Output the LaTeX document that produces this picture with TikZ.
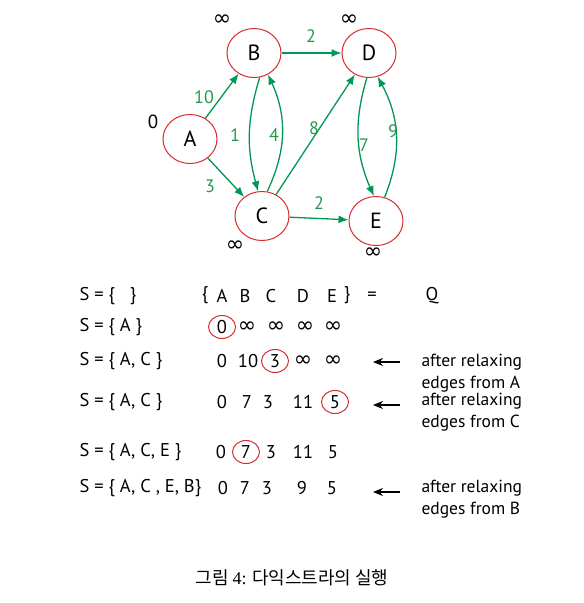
\documentclass[tikz,border=0pt]{standalone}
\usepackage{fontspec}
\setmainfont{PT Sans}
\newfontfamily\cjk{Noto Sans CJK KR}
\newfontfamily\symfont{DejaVu Sans}
\newfontfamily\capserif{Liberation Serif}
\usetikzlibrary{arrows.meta,shapes.geometric}
\definecolor{edgegreen}{RGB}{0,150,85}
\definecolor{labgreen}{RGB}{30,155,75}
\definecolor{ringred}{RGB}{215,45,45}
\newcommand{\inft}{{\symfont\fontsize{22}{22}\selectfont ∞}}

\begin{document}
\begin{tikzpicture}[x=1pt,y=1pt,
  vertex/.style={ellipse,draw=ringred,line width=1pt,minimum width=54pt,minimum height=49pt,font=\fontsize{22}{26}\selectfont},
  wedge/.style={edgegreen,line width=1.3pt,-{Latex[length=10pt,width=8pt]}},
  wlab/.style={text=labgreen,font=\fontsize{18}{21}\selectfont},
  dist/.style={font=\fontsize{19}{22}\selectfont},
  row/.style={anchor=west,font=\fontsize{18.5}{22}\selectfont},
  cell/.style={font=\fontsize{18.5}{22}\selectfont},
  hl/.style={cell,ellipse,draw=ringred,line width=1pt,minimum width=27pt,minimum height=23pt,inner sep=0pt},
  note/.style={anchor=west,align=left,font=\fontsize{17.5}{22}\selectfont},
  larrow/.style={line width=1.3pt,-{Stealth[length=10pt,width=8pt]}}]
\useasboundingbox (0,0) rectangle (584,-603);

% graph
\node[vertex] (A) at (190,-139) {A};
\node[vertex] (B) at (254,-53) {B};
\node[vertex] (C) at (262,-216) {C};
\node[vertex] (D) at (369,-53) {D};
\node[vertex] (E) at (376,-221) {E};

\node[dist] (dA) at (153,-122) {0};
\node[dist] (dB) at (222,-20) {\inft};
\node[dist] (dD) at (349,-20) {\inft};
\node[dist] (dC) at (235,-246) {\inft};
\node[dist] (dE) at (373,-253) {\inft};

\draw[wedge] (A) -- (B);
\draw[wedge] (A) -- (C);
\draw[wedge] (B) -- (D);
\draw[wedge] (B.-77) to[bend right=16] (C.99);
\draw[wedge] (C.78) to[bend right=25] (B.-57);
\draw[wedge] (C) -- (D);
\draw[wedge] (C) -- (E);
\draw[wedge] (D.-95) to[bend right=20] (E.95);
\draw[wedge] (E.70) to[bend right=25] (D.-70);

\node[wlab] (wAB) at (204,-97) {10};
\node[wlab] (wAC) at (210,-186) {3};
\node[wlab] (wBD) at (311,-36) {2};
\node[wlab] (wBC) at (235,-135) {1};
\node[wlab] (wCB) at (274,-135) {4};
\node[wlab] (wCD) at (314,-128) {8};
\node[wlab] (wCE) at (319,-203) {2};
\node[wlab] (wDE) at (364,-145) {7};
\node[wlab] (wED) at (393,-131) {9};

% table
\node[row] (s1) at (76,-296) {S = \{ \ \ \}};
\node[cell] (lb) at (205,-295) {\{};
\node[cell] (hA) at (222,-296) {A};
\node[cell] (hB) at (245,-296) {B};
\node[cell] (hC) at (271,-296) {C};
\node[cell] (hD) at (303,-296) {D};
\node[cell] (hE) at (332,-296) {E};
\node[cell] (rb) at (347,-295) {\}};
\node[cell] (eq) at (372,-296) {=};
\node[cell] (Q) at (432,-296) {Q};

\node[row] (s2) at (76,-327) {S = \{ A \}};
\node[hl] (r2a) at (222,-327) {0};
\node[cell] (r2b) at (247,-327) {\inft};
\node[cell] (r2c) at (276,-327) {\inft};
\node[cell] (r2d) at (305,-327) {\inft};
\node[cell] (r2e) at (333,-327) {\inft};

\node[row] (s3) at (76,-361) {S = \{ A, C \}};
\node[cell] (r3a) at (222,-361) {0};
\node[cell] (r3b) at (248,-361) {10};
\node[hl] (r3c) at (275,-361) {3};
\node[cell] (r3d) at (303,-361) {\inft};
\node[cell] (r3e) at (333,-361) {\inft};

\node[row] (s4) at (76,-402) {S = \{ A, C \}};
\node[cell] (r4a) at (222,-402) {0};
\node[cell] (r4b) at (247,-402) {7};
\node[cell] (r4c) at (268,-402) {3};
\node[cell] (r4d) at (303,-402) {11};
\node[hl] (r4e) at (335,-402) {5};

\node[row] (s5) at (76,-452) {S = \{ A, C, E \}};
\node[cell] (r5a) at (221,-452) {0};
\node[hl] (r5b) at (246,-452) {7};
\node[cell] (r5c) at (271,-452) {3};
\node[cell] (r5d) at (303,-452) {11};
\node[cell] (r5e) at (333,-452) {5};

\node[row] (s6) at (76,-488) {S = \{ A, C , E, B\}};
\node[cell] (r6a) at (223,-488) {0};
\node[cell] (r6b) at (245,-488) {7};
\node[cell] (r6c) at (267,-488) {3};
\node[cell] (r6d) at (302,-488) {9};
\node[cell] (r6e) at (332,-488) {5};

% notes
\coordinate (t3) at (400,-362);
\coordinate (h3) at (373,-362);
\draw[larrow] (t3) -- (h3);
\node[note] (n3) at (418,-373) {after relaxing\\edges from A};
\coordinate (t4) at (400,-405);
\coordinate (h4) at (373,-405);
\draw[larrow] (t4) -- (h4);
\node[note] (n4) at (418,-412) {after relaxing\\edges from C};
\coordinate (t6) at (400,-492);
\coordinate (h6) at (373,-492);
\draw[larrow] (t6) -- (h6);
\node[note] (n6) at (418,-499) {after relaxing\\edges from B};

% caption
\node[font=\fontsize{18}{21}\selectfont] (cap) at (292,-578) {\cjk 그림 {\capserif 4:} 다익스트라의 실행};
\end{tikzpicture}
\end{document}
